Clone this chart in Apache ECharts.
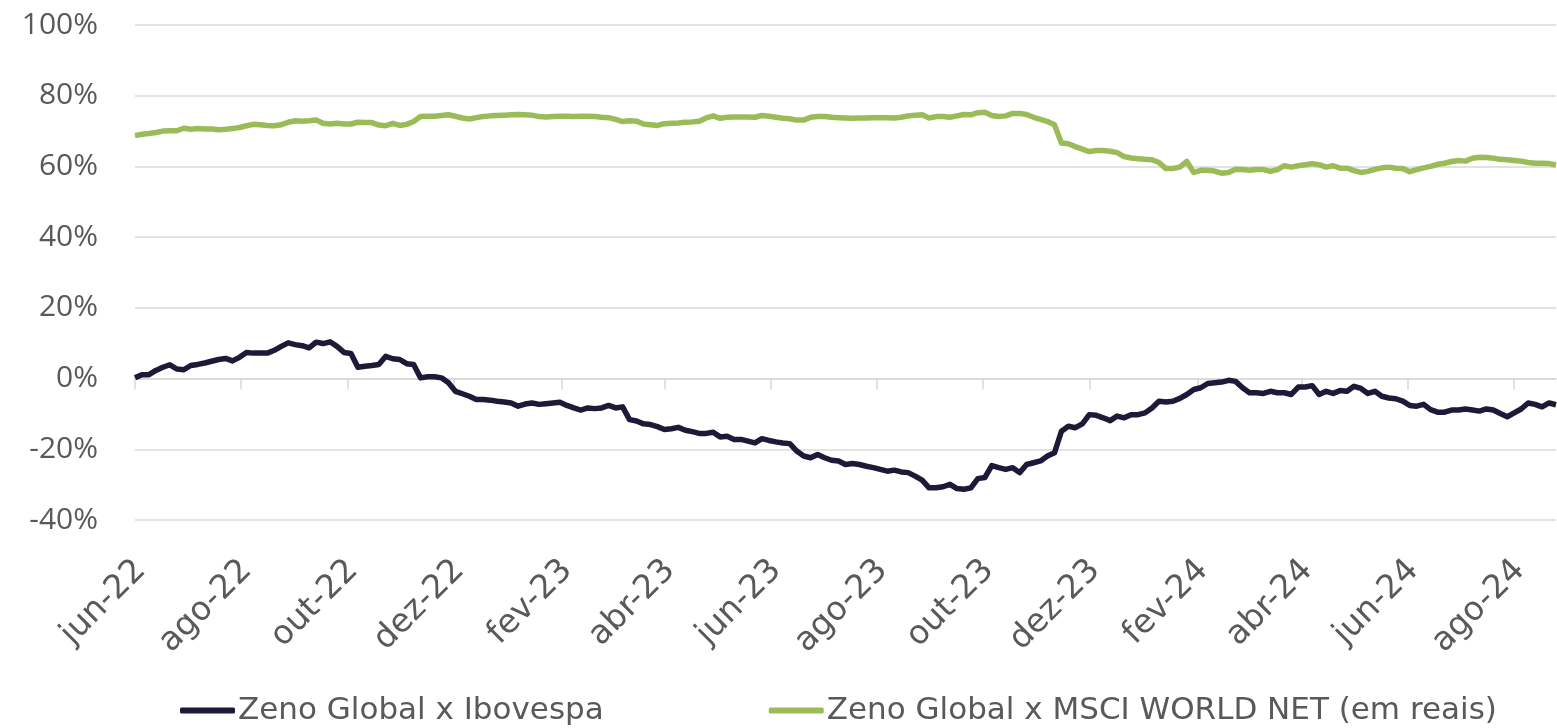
<!DOCTYPE html>
<html>
<head>
<meta charset="utf-8">
<script src="https://cdn.jsdelivr.net/npm/echarts@6/dist/echarts.min.js"></script>
<style>
  html, body { margin: 0; padding: 0; background: #ffffff; }
  #chart { width: 1557px; height: 728px; }
</style>
</head>
<body>
<div id="chart"></div>
<script>
// Sampling: one reading every 4 days starting on the first day of the series
const startDate = '2022-06-01';
const stepDays = 4;

// Month ticks on the time axis (every two months)
const tickDates = ['2022-06-01', '2022-08-01', '2022-10-01', '2022-12-01', '2023-02-01', '2023-04-01',
  '2023-06-01', '2023-08-01', '2023-10-01', '2023-12-01', '2024-02-01', '2024-04-01',
  '2024-06-01', '2024-08-01'];
const tickLabels = ['jun-22', 'ago-22', 'out-22', 'dez-22', 'fev-23', 'abr-23',
  'jun-23', 'ago-23', 'out-23', 'dez-23', 'fev-24', 'abr-24', 'jun-24', 'ago-24'];

const seriesNames = ['Zeno Global x Ibovespa', 'Zeno Global x MSCI WORLD NET (em reais)'];

// Relative performance vs Ibovespa (%)
const ibovespa = [
  0.2, 1.1, 1.1, 2.3, 3.2, 3.9, 2.7, 2.5, 3.7, 4.0,
  4.4, 4.9, 5.4, 5.7, 5.0, 6.0, 7.4, 7.2, 7.2, 7.2,
  8.0, 9.1, 10.1, 9.6, 9.3, 8.7, 10.3, 9.9, 10.4, 9.1,
  7.4, 7.1, 3.2, 3.5, 3.7, 4.0, 6.3, 5.6, 5.4, 4.2,
  4.0, 0.2, 0.5, 0.5, 0.2, -1.2, -3.6, -4.3, -5.0, -5.9,
  -5.9, -6.1, -6.4, -6.6, -6.9, -7.8, -7.2, -6.9, -7.3, -7.1,
  -6.9, -6.7, -7.6, -8.3, -8.9, -8.3, -8.5, -8.3, -7.6, -8.3,
  -8.0, -11.6, -12.0, -12.8, -13.0, -13.6, -14.4, -14.2, -13.8, -14.6,
  -15.0, -15.5, -15.5, -15.2, -16.5, -16.3, -17.2, -17.2, -17.7, -18.2,
  -17.0, -17.5, -17.9, -18.2, -18.4, -20.5, -21.9, -22.4, -21.5, -22.4,
  -23.1, -23.3, -24.3, -24.0, -24.3, -24.8, -25.2, -25.7, -26.2, -25.9,
  -26.4, -26.6, -27.6, -28.7, -30.9, -30.9, -30.6, -29.9, -31.1, -31.3,
  -30.9, -28.3, -28.0, -24.6, -25.2, -25.7, -25.2, -26.6, -24.3, -23.8,
  -23.3, -21.9, -21.0, -14.9, -13.5, -13.9, -12.8, -10.2, -10.4, -11.1,
  -11.9, -10.6, -11.1, -10.2, -10.2, -9.7, -8.3, -6.4, -6.6, -6.4,
  -5.6, -4.5, -3.1, -2.6, -1.4, -1.2, -1.0, -0.5, -0.8, -2.6,
  -4.0, -4.0, -4.2, -3.6, -4.0, -4.0, -4.5, -2.4, -2.4, -2.0,
  -4.5, -3.6, -4.2, -3.4, -3.6, -2.2, -2.8, -4.2, -3.6, -5.0,
  -5.5, -5.7, -6.4, -7.6, -7.8, -7.3, -8.8, -9.5, -9.5, -8.9,
  -8.9, -8.6, -8.9, -9.2, -8.6, -8.9, -9.9, -10.8, -9.7, -8.6,
  -6.9, -7.3, -8.0, -6.9, -7.4
];

// Relative performance vs MSCI World Net in BRL (%)
const msciWorld = [
  68.7, 69.1, 69.3, 69.6, 70.0, 70.1, 70.1, 70.8, 70.5, 70.7,
  70.6, 70.6, 70.4, 70.5, 70.7, 71.0, 71.5, 71.9, 71.8, 71.6,
  71.5, 71.8, 72.5, 72.9, 72.8, 72.9, 73.1, 72.2, 72.0, 72.2,
  72.0, 72.0, 72.5, 72.4, 72.4, 71.7, 71.5, 72.2, 71.6, 71.9,
  72.7, 74.1, 74.2, 74.2, 74.4, 74.6, 74.2, 73.7, 73.4, 73.8,
  74.1, 74.3, 74.4, 74.5, 74.6, 74.7, 74.6, 74.5, 74.1, 74.0,
  74.1, 74.2, 74.2, 74.1, 74.2, 74.2, 74.1, 73.9, 73.8, 73.3,
  72.7, 72.9, 72.8, 72.0, 71.8, 71.6, 72.1, 72.2, 72.3, 72.5,
  72.6, 72.8, 73.7, 74.3, 73.6, 73.9, 74.0, 74.0, 74.0, 73.9,
  74.4, 74.2, 73.9, 73.6, 73.5, 73.1, 73.1, 73.9, 74.1, 74.1,
  73.9, 73.8, 73.7, 73.6, 73.7, 73.7, 73.8, 73.8, 73.8, 73.7,
  73.9, 74.3, 74.5, 74.6, 73.7, 74.1, 74.1, 73.9, 74.3, 74.7,
  74.6, 75.2, 75.3, 74.4, 74.1, 74.3, 75.0, 75.0, 74.7, 73.9,
  73.3, 72.7, 71.8, 66.6, 66.4, 65.6, 64.9, 64.2, 64.5, 64.5,
  64.3, 63.9, 62.8, 62.4, 62.2, 62.0, 61.9, 61.1, 59.4, 59.4,
  59.8, 61.4, 58.3, 58.9, 58.9, 58.7, 58.1, 58.3, 59.2, 59.1,
  58.9, 59.1, 59.1, 58.6, 59.1, 60.2, 59.8, 60.2, 60.5, 60.8,
  60.5, 59.8, 60.2, 59.5, 59.5, 58.8, 58.3, 58.6, 59.2, 59.6,
  59.8, 59.5, 59.4, 58.5, 59.1, 59.6, 60.0, 60.6, 60.9, 61.4,
  61.7, 61.5, 62.3, 62.6, 62.5, 62.3, 62.0, 61.9, 61.7, 61.5,
  61.1, 60.9, 60.9, 60.8, 60.4
];

// Axis scale helpers: x is measured in days since the start date
const DAY = 86400000;
const t0 = Date.parse(startDate + 'T00:00:00Z');
const dayOf = s => Math.round((Date.parse(s + 'T00:00:00Z') - t0) / DAY);
const tickDays = tickDates.map(dayOf);
const labelByDay = {};
tickDays.forEach((d, k) => { labelByDay[d] = tickLabels[k]; });
const toPoints = arr => arr.map((v, k) => [k * stepDays, v]);
const lastDay = (ibovespa.length - 1) * stepDays;

const FONT = '"DejaVu Sans", sans-serif';
const NUM_FONT = '"Open Sans", sans-serif';
const TEXT = '#595959';
const GRID = '#d9d9d9';

const chart = echarts.init(document.getElementById('chart'), null, { renderer: 'canvas' });
chart.setOption({
  animation: false,
  backgroundColor: '#ffffff',
  textStyle: { fontFamily: FONT },
  grid: { left: 135, right: 1, top: 25, bottom: 208 },
  legend: {
    left: 175,
    top: 690,
    itemGap: 165,
    itemWidth: 55,
    itemHeight: 6,
    icon: 'roundRect',
    textStyle: { fontFamily: FONT, fontSize: 31, color: TEXT, padding: [0, 0, 0, -2] },
    data: seriesNames
  },
  xAxis: [
    {
      // axis line and ticks sitting on the 0% line
      type: 'value',
      min: 0,
      max: lastDay,
      axisLine: { show: true, onZero: true, lineStyle: { color: GRID, width: 1.5 } },
      axisTick: { show: true, customValues: tickDays, length: 11, lineStyle: { color: GRID, width: 1.5 } },
      axisLabel: { show: false },
      splitLine: { show: false }
    },
    {
      // month labels along the bottom edge
      type: 'value',
      min: 0,
      max: lastDay,
      position: 'bottom',
      axisLine: { show: false, onZero: false },
      axisTick: { show: false },
      splitLine: { show: false },
      axisLabel: {
        show: true,
        customValues: tickDays,
        rotate: 45,
        margin: 51,
        padding: [0, -8, 0, 0],
        fontFamily: FONT,
        fontSize: 33,
        color: TEXT,
        formatter: v => labelByDay[Math.round(v)] || ''
      }
    }
  ],
  yAxis: {
    type: 'value',
    min: -40,
    max: 100,
    interval: 20,
    axisLine: { show: false },
    axisTick: { show: false },
    axisLabel: { formatter: '{value}%', fontFamily: NUM_FONT, fontSize: 30, color: TEXT, margin: 37 },
    splitLine: { lineStyle: { color: GRID, width: 1.5 } }
  },
  series: [
    {
      name: seriesNames[0],
      type: 'line',
      xAxisIndex: 0,
      data: toPoints(ibovespa),
      showSymbol: false,
      symbol: 'none',
      color: '#1c1a38',
      lineStyle: { width: 5.5, color: '#1c1a38', join: 'round' }
    },
    {
      name: seriesNames[1],
      type: 'line',
      xAxisIndex: 0,
      data: toPoints(msciWorld),
      showSymbol: false,
      symbol: 'none',
      color: '#9bbb59',
      lineStyle: { width: 5.5, color: '#9bbb59', join: 'round' }
    }
  ]
});
</script>
</body>
</html>
